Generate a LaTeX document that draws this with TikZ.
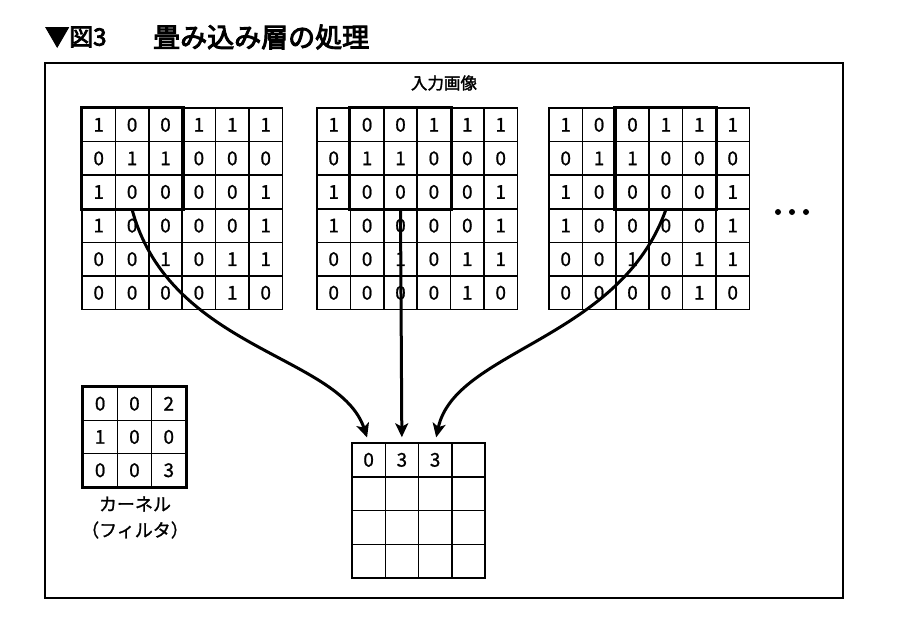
\documentclass[tikz,border=0pt]{standalone}
\usepackage{fontspec}
\usetikzlibrary{arrows.meta}
\newfontfamily\jp{Noto Sans CJK JP}[FakeBold=1.0]
\newfontfamily\jpb{Noto Sans CJK JP}[FakeBold=3.5]
\newfontfamily\jpm{Noto Sans CJK JP}[FakeBold=1.8]
\newfontfamily\jpl{Noto Sans CJK JP}[FakeBold=1.2]
\begin{document}
\begin{tikzpicture}[x=1pt,y=-1pt,
  cell/.style={draw, line width=1.5pt, minimum width=33.4pt, minimum height=33.6pt,
    inner sep=0pt, font=\jp\fontsize{19}{19}\selectfont},
  kcell/.style={cell, minimum width=34.3pt, minimum height=33.3pt},
  ocell/.style={cell, minimum width=33.25pt, minimum height=33.75pt},
  hilite/.style={line width=3.2pt},
  flow/.style={line width=3pt, -{Stealth[length=14pt,width=13pt,inset=3.5pt]}, shorten >=5pt},
  lbl/.style={inner sep=0pt, font=\jpl\fontsize{18}{18}\selectfont}]
\useasboundingbox (0,0) rectangle (898,638);
% title
\node[anchor=west, inner sep=0pt, font=\jpb\fontsize{24}{24}\selectfont] (t1) at (45,37) {▼図3};
\node[anchor=west, inner sep=0pt, font=\jpb\fontsize{27}{27}\selectfont] (t2) at (153,37) {畳み込み層の処理};
% frame
\draw[line width=1.5pt] (45,63) rectangle (843,598);
\node[inner sep=0pt, font=\jpm\fontsize{16.5}{16.5}\selectfont] (in) at (444,83) {入力画像};
% input grids
\foreach \g/\gx in {1/82,2/317,3/549}{
  \foreach \row [count=\r] in {{1,0,0,1,1,1},{0,1,1,0,0,0},{1,0,0,0,0,1},{1,0,0,0,0,1},{0,0,1,0,1,1},{0,0,0,0,1,0}}{
    \foreach \v [count=\c] in \row{
      \node[cell] (g\g-\r-\c) at ({\gx+(\c-0.5)*33.4},{108+(\r-0.5)*33.6}) {\v};
    }
  }
}
\draw[hilite] (g1-1-1.north west) rectangle (g1-3-3.south east);
\draw[hilite] (g2-1-2.north west) rectangle (g2-3-4.south east);
\draw[hilite] (g3-1-3.north west) rectangle (g3-3-5.south east);
% dots
\foreach \dx in {778,792,806}{\fill (\dx,212) circle (3pt);}
% kernel
\foreach \row [count=\r] in {{0,0,2},{1,0,0},{0,0,3}}{
  \foreach \v [count=\c] in \row{
    \node[kcell] (k-\r-\c) at ({83+(\c-0.5)*34.3},{387+(\r-0.5)*33.3}) {\v};
  }
}
\draw[hilite] (k-1-1.north west) rectangle (k-3-3.south east);
\node[lbl] (kl1) at (135,504) {カーネル};
\node[lbl] (kl2) at (135,530) {（フィルタ）};
% output
\foreach \row [count=\r] in {{0,3,3,{}},{{},{},{},{}},{{},{},{},{}},{{},{},{},{}}}{
  \foreach \v [count=\c] in \row{
    \node[ocell] (o-\r-\c) at ({352+(\c-0.5)*33.25},{443+(\r-0.5)*33.75}) {\v};
  }
}
% arrows
\draw[flow] (g1-3-2.south) .. controls (170,350) and (340,355) .. (o-1-1.north);
\draw[flow] (g2-3-3.south) -- (o-1-2.north);
\draw[flow] (g3-3-4.south) .. controls (620,340) and (455,350) .. (o-1-3.north);
\end{tikzpicture}
\end{document}
